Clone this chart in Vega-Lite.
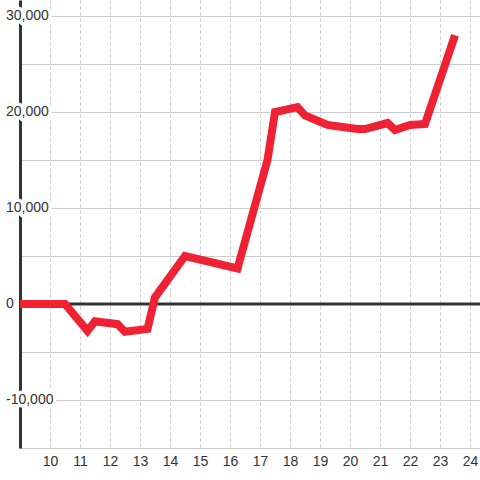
{
  "$schema": "https://vega.github.io/schema/vega-lite/v6.json",
  "autosize": "none",
  "width": 460,
  "height": 448,
  "padding": {"left": 20, "top": 0, "right": 0, "bottom": 32},
  "background": "white",
  "config": {
    "view": {"stroke": null},
    "font": "Liberation Sans",
    "axis": {"title": null, "ticks": false, "gridColor": "#cccccc", "gridWidth": 1},
    "axisX": {
      "grid": true, "gridDash": [3, 3], "gridColor": "#c8c8c8",
      "domainColor": "#cccccc", "domainWidth": 1,
      "labelFontSize": 14, "labelColor": "#333333", "labelPadding": 6,
      "labelFont": "Liberation Sans"
    },
    "axisY": {
      "grid": true, "labels": false,
      "domainColor": "#333333", "domainWidth": 3
    }
  },
  "datasets": {
    "series": [
      {"h": 9, "v": 0},
      {"h": 10.5, "v": 0},
      {"h": 11.25, "v": -2800},
      {"h": 11.5, "v": -1800},
      {"h": 12.25, "v": -2100},
      {"h": 12.5, "v": -2900},
      {"h": 13.25, "v": -2600},
      {"h": 13.5, "v": 700},
      {"h": 14.5, "v": 5000},
      {"h": 16.25, "v": 3700},
      {"h": 17.25, "v": 15000},
      {"h": 17.5, "v": 20000},
      {"h": 18.25, "v": 20500},
      {"h": 18.5, "v": 19650},
      {"h": 19.25, "v": 18650},
      {"h": 19.5, "v": 18550},
      {"h": 20.25, "v": 18230},
      {"h": 20.5, "v": 18230},
      {"h": 21.25, "v": 18850},
      {"h": 21.5, "v": 18130},
      {"h": 22, "v": 18650},
      {"h": 22.5, "v": 18750},
      {"h": 23.5, "v": 28000}
    ],
    "ylabels": [
      {"h": 9, "v": 30000, "label": "30,000"},
      {"h": 9, "v": 20000, "label": "20,000"},
      {"h": 9, "v": 10000, "label": "10,000"},
      {"h": 9, "v": 0, "label": "0"},
      {"h": 9, "v": -10000, "label": "-10,000"}
    ]
  },
  "layer": [
    {
      "data": {"name": "ylabels"},
      "transform": [{"filter": "datum.v == 0"}],
      "mark": {"type": "rule", "color": "#333333", "strokeWidth": 3},
      "encoding": {
        "y": {"field": "v", "type": "quantitative", "scale": {"domain": [-15000, 31667], "nice": false, "zero": false},
              "axis": {"values": [-15000, -10000, -5000, 0, 5000, 10000, 15000, 20000, 25000, 30000]}}
      }
    },
    {
      "data": {"name": "ylabels"},
      "mark": {"type": "text", "align": "left", "baseline": "middle", "dx": -14, "fontSize": 14, "font": "Liberation Sans", "fill": "white", "stroke": "white", "strokeWidth": 7, "strokeJoin": "round"},
      "encoding": {
        "x": {"field": "h", "type": "quantitative", "scale": {"domain": [9, 24.333], "nice": false, "zero": false},
              "axis": {"values": [10, 11, 12, 13, 14, 15, 16, 17, 18, 19, 20, 21, 22, 23, 24]}},
        "y": {"field": "v", "type": "quantitative", "scale": {"domain": [-15000, 31667], "nice": false, "zero": false},
              "axis": {"values": [-15000, -10000, -5000, 0, 5000, 10000, 15000, 20000, 25000, 30000]}},
        "text": {"field": "label"}
      }
    },
    {
      "data": {"name": "ylabels"},
      "mark": {"type": "text", "align": "left", "baseline": "middle", "dx": -14, "fontSize": 14, "font": "Liberation Sans", "fill": "#333333"},
      "encoding": {
        "x": {"field": "h", "type": "quantitative", "scale": {"domain": [9, 24.333], "nice": false, "zero": false},
              "axis": {"values": [10, 11, 12, 13, 14, 15, 16, 17, 18, 19, 20, 21, 22, 23, 24]}},
        "y": {"field": "v", "type": "quantitative", "scale": {"domain": [-15000, 31667], "nice": false, "zero": false},
              "axis": {"values": [-15000, -10000, -5000, 0, 5000, 10000, 15000, 20000, 25000, 30000]}},
        "text": {"field": "label"}
      }
    },
    {
      "data": {"name": "series"},
      "mark": {"type": "line", "color": "#ee2233", "strokeWidth": 8, "strokeJoin": "miter", "strokeCap": "butt"},
      "encoding": {
        "x": {"field": "h", "type": "quantitative", "scale": {"domain": [9, 24.333], "nice": false, "zero": false},
              "axis": {"values": [10, 11, 12, 13, 14, 15, 16, 17, 18, 19, 20, 21, 22, 23, 24]}},
        "y": {"field": "v", "type": "quantitative", "scale": {"domain": [-15000, 31667], "nice": false, "zero": false},
              "axis": {"values": [-15000, -10000, -5000, 0, 5000, 10000, 15000, 20000, 25000, 30000]}}
      }
    }
  ]
}
